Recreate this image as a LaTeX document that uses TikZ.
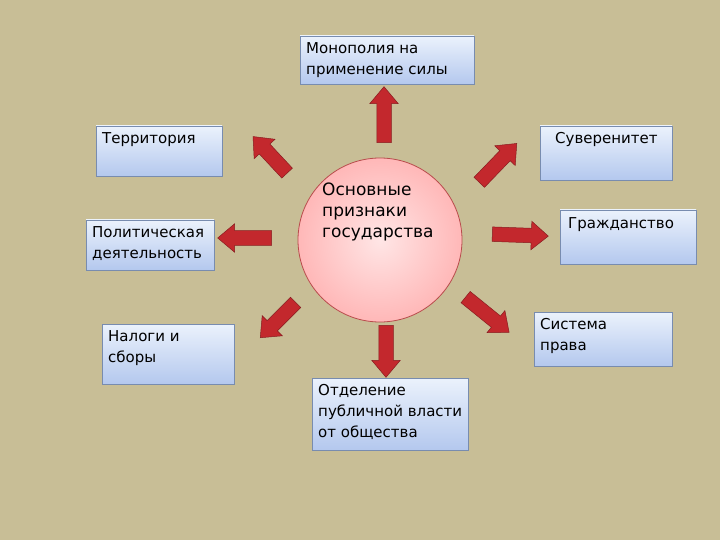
\documentclass[tikz,border=0pt]{standalone}
\usepackage{fontspec}
\setmainfont{DejaVu Sans}
\usetikzlibrary{shapes.arrows}
\definecolor{bg}{RGB}{200,190,150}
\definecolor{boxtop}{RGB}{235,242,252}
\definecolor{boxbot}{RGB}{180,200,238}
\definecolor{boxline}{RGB}{120,140,175}
\definecolor{arr}{RGB}{195,40,45}
\tikzset{
 box/.style={top color=boxtop,bottom color=boxbot},
 btext/.style={font=\fontsize{15}{21}\selectfont,align=left,anchor=north west,inner sep=0pt},
 barrow/.style={single arrow,draw=arr!70!black,fill=arr,inner xsep=0pt,inner ysep=7pt,single arrow head extend=7pt,single arrow tip angle=80,line width=0.5pt}
}
\begin{document}
\begin{tikzpicture}[x=1pt,y=-1pt]
\fill[bg] (0,0) rectangle (720,540);
\useasboundingbox (0,0) rectangle (720,540);
\node[circle,draw=red!60!black!70,line width=0.8pt,inner color=white!90!red,outer color=red!28!white,minimum size=164pt] (c) at (380,240) {};
\node[align=left,font=\fontsize{17}{21}\selectfont,anchor=north west,inner sep=0pt] (ct) at (322,183) {Основные\\признаки\\государства};
\newcommand{\bx}[6]{\path[box] (#2,#3) rectangle (#4,#5);\draw[boxline,line width=0.8pt] (#2,#3) rectangle (#4,#5);\node[btext] (#1) at (#2+6,#3+6) {#6};}
\bx{m}{300}{36}{474}{84}{Монополия на\\применение силы}
\bx{t}{96}{126}{222}{176}{Территория}
\bx{s}{540}{126}{672}{180}{\hspace*{9pt}Суверенитет}
\bx{p}{86}{220}{214}{270}{Политическая\\деятельность}
\bx{g}{560}{210}{696}{264}{\raisebox{-12pt}{\hspace*{2pt}Гражданство}}
\bx{n}{102}{324}{234}{384}{Налоги и\\сборы}
\bx{sp}{534}{312}{672}{366}{Система\\права}
\bx{o}{312}{378}{468}{450}{Отделение\\публичной власти\\от общества}
\node[barrow,minimum height=56pt,rotate=90] (a1) at (384,119) {};
\node[barrow,minimum height=50pt,rotate=133] (a2) at (273,158) {};
\node[barrow,minimum height=54pt,rotate=46] (a3) at (495,166) {};
\node[barrow,minimum height=54pt,rotate=180] (a4) at (249,238) {};
\node[barrow,minimum height=56pt,rotate=-2] (a5) at (516,235) {};
\node[barrow,minimum height=50pt,rotate=225] (a6) at (281,317) {};
\node[barrow,minimum height=52pt,rotate=-90] (a7) at (386,347) {};
\node[barrow,minimum height=56pt,rotate=-39] (a8) at (484,312) {};
\end{tikzpicture}
\end{document}
